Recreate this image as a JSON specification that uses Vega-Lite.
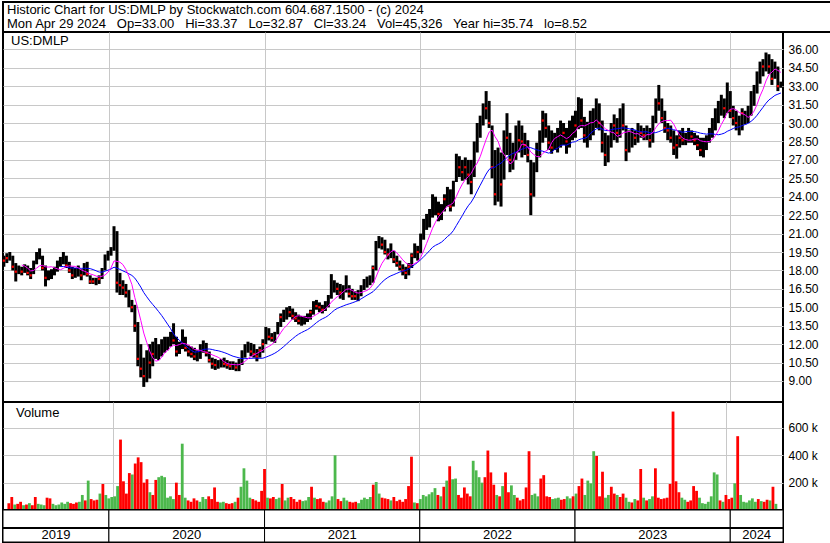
{
"$schema":"https://vega.github.io/schema/vega-lite/v6.json",
"background":"white",
"padding":{"left":1,"top":1,"right":0,"bottom":0},
"spacing":0,
"bounds":"flush",
"config":{
 "font":"Liberation Sans",
 "view":{"stroke":"black","strokeWidth":2},
 "axis":{"labelFont":"Liberation Sans","labelFontSize":12,"labelColor":"black","gridColor":"#c8c8c8","gridOpacity":1,"gridWidth":1,"domain":false,"ticks":false,"title":null,"labelOverlap":false,"labelFlush":false,"labelBound":false},
 "text":{"font":"Liberation Sans","color":"black"}
},
"resolve":{"scale":{"x":"independent","y":"independent"}},
"datasets":{
"hdr":[
 {"line":1,"t":"Historic Chart for US:DMLP by Stockwatch.com 604.687.1500 - (c) 2024"},
 {"line":2,"t":"Mon Apr 29 2024\u00a0\u00a0 Op=33.00\u00a0\u00a0 Hi=33.37\u00a0\u00a0 Lo=32.87\u00a0\u00a0 Cl=33.24\u00a0\u00a0 Vol=45,326\u00a0\u00a0 Year hi=35.74\u00a0\u00a0 lo=8.52"}
],
"yrs":[
 {"yr":"2019","s":"2019-04-27","e":"2020-01-01"},
 {"yr":"2020","s":"2020-01-01","e":"2021-01-01"},
 {"yr":"2021","s":"2021-01-01","e":"2022-01-01"},
 {"yr":"2022","s":"2022-01-01","e":"2023-01-01"},
 {"yr":"2023","s":"2023-01-01","e":"2024-01-01"},
 {"yr":"2024","s":"2024-01-01","e":"2024-05-04"}
],
"p":[
{"d":"2019-04-29","h":19.2,"l":18.3,"c":18.8,"v":50,"u":0},
{"d":"2019-05-06","h":19.4,"l":18.6,"c":19.0,"v":95,"u":0},
{"d":"2019-05-13","h":19.5,"l":18.8,"c":19.2,"v":40,"u":1},
{"d":"2019-05-20","h":19.2,"l":18.0,"c":18.3,"v":45,"u":0},
{"d":"2019-05-27","h":18.6,"l":17.1,"c":17.9,"v":60,"u":0},
{"d":"2019-06-03","h":18.4,"l":17.7,"c":18.0,"v":35,"u":1},
{"d":"2019-06-10","h":18.3,"l":17.6,"c":17.9,"v":40,"u":0},
{"d":"2019-06-17","h":18.5,"l":17.8,"c":18.2,"v":50,"u":1},
{"d":"2019-06-24","h":18.4,"l":17.6,"c":17.8,"v":35,"u":0},
{"d":"2019-07-01","h":18.2,"l":17.3,"c":17.6,"v":95,"u":0},
{"d":"2019-07-08","h":18.8,"l":17.7,"c":18.6,"v":45,"u":1},
{"d":"2019-07-15","h":19.5,"l":18.5,"c":19.2,"v":40,"u":1},
{"d":"2019-07-22","h":19.8,"l":18.9,"c":19.3,"v":35,"u":1},
{"d":"2019-07-29","h":19.2,"l":18.0,"c":18.2,"v":90,"u":0},
{"d":"2019-08-05","h":18.4,"l":16.7,"c":17.4,"v":85,"u":0},
{"d":"2019-08-12","h":18.0,"l":17.2,"c":17.6,"v":45,"u":1},
{"d":"2019-08-19","h":18.1,"l":17.3,"c":17.8,"v":35,"u":1},
{"d":"2019-08-26","h":18.3,"l":17.6,"c":18.0,"v":40,"u":1},
{"d":"2019-09-02","h":18.8,"l":17.9,"c":18.6,"v":55,"u":1},
{"d":"2019-09-09","h":19.1,"l":18.3,"c":18.8,"v":45,"u":1},
{"d":"2019-09-16","h":19.5,"l":18.5,"c":19.0,"v":60,"u":1},
{"d":"2019-09-23","h":19.2,"l":18.2,"c":18.4,"v":50,"u":0},
{"d":"2019-09-30","h":18.7,"l":17.8,"c":18.0,"v":45,"u":0},
{"d":"2019-10-07","h":18.3,"l":17.3,"c":17.6,"v":55,"u":0},
{"d":"2019-10-14","h":18.2,"l":17.4,"c":17.9,"v":60,"u":1},
{"d":"2019-10-21","h":18.4,"l":17.5,"c":17.8,"v":110,"u":1},
{"d":"2019-10-28","h":18.1,"l":17.2,"c":17.6,"v":70,"u":0},
{"d":"2019-11-04","h":18.6,"l":17.6,"c":18.3,"v":215,"u":1},
{"d":"2019-11-11","h":18.7,"l":17.5,"c":17.7,"v":80,"u":0},
{"d":"2019-11-18","h":17.6,"l":16.9,"c":17.1,"v":70,"u":0},
{"d":"2019-11-25","h":17.4,"l":16.9,"c":17.1,"v":75,"u":0},
{"d":"2019-12-02","h":17.4,"l":16.8,"c":17.2,"v":120,"u":1},
{"d":"2019-12-09","h":17.6,"l":16.9,"c":17.3,"v":190,"u":0},
{"d":"2019-12-16","h":18.2,"l":17.3,"c":18.0,"v":110,"u":1},
{"d":"2019-12-23","h":19.3,"l":18.0,"c":19.0,"v":85,"u":1},
{"d":"2019-12-30","h":19.6,"l":18.8,"c":19.3,"v":95,"u":1},
{"d":"2020-01-06","h":19.9,"l":19.2,"c":19.6,"v":100,"u":1},
{"d":"2020-01-13","h":21.6,"l":19.6,"c":21.0,"v":175,"u":1},
{"d":"2020-01-20","h":21.2,"l":16.2,"c":17.0,"v":515,"u":0},
{"d":"2020-01-27","h":17.8,"l":16.0,"c":16.8,"v":210,"u":0},
{"d":"2020-02-03","h":17.2,"l":16.0,"c":16.6,"v":120,"u":0},
{"d":"2020-02-10","h":16.9,"l":15.8,"c":16.2,"v":270,"u":0},
{"d":"2020-02-17","h":16.4,"l":15.0,"c":15.4,"v":260,"u":1},
{"d":"2020-02-24","h":15.6,"l":14.6,"c":15.0,"v":340,"u":0},
{"d":"2020-03-02","h":15.2,"l":13.0,"c":13.5,"v":385,"u":0},
{"d":"2020-03-09","h":13.8,"l":10.2,"c":10.8,"v":350,"u":0},
{"d":"2020-03-16","h":12.0,"l":9.3,"c":10.0,"v":200,"u":0},
{"d":"2020-03-23","h":10.9,"l":8.52,"c":9.4,"v":225,"u":0},
{"d":"2020-03-30","h":11.5,"l":8.9,"c":10.8,"v":130,"u":1},
{"d":"2020-04-06","h":12.0,"l":9.2,"c":10.5,"v":110,"u":0},
{"d":"2020-04-13","h":12.2,"l":10.2,"c":11.2,"v":220,"u":0},
{"d":"2020-04-20","h":12.5,"l":10.8,"c":11.6,"v":240,"u":1},
{"d":"2020-04-27","h":12.0,"l":10.7,"c":11.2,"v":250,"u":1},
{"d":"2020-05-04","h":12.4,"l":11.0,"c":11.8,"v":240,"u":1},
{"d":"2020-05-11","h":12.6,"l":11.3,"c":12.0,"v":90,"u":1},
{"d":"2020-05-18","h":12.6,"l":11.5,"c":12.1,"v":100,"u":1},
{"d":"2020-05-25","h":13.0,"l":11.8,"c":12.4,"v":80,"u":1},
{"d":"2020-06-01","h":13.7,"l":12.0,"c":12.3,"v":200,"u":0},
{"d":"2020-06-08","h":12.6,"l":11.0,"c":11.4,"v":110,"u":0},
{"d":"2020-06-15","h":12.2,"l":11.2,"c":11.8,"v":485,"u":1},
{"d":"2020-06-22","h":13.2,"l":11.6,"c":12.5,"v":90,"u":1},
{"d":"2020-06-29","h":12.6,"l":11.4,"c":11.7,"v":70,"u":0},
{"d":"2020-07-06","h":11.9,"l":11.0,"c":11.4,"v":60,"u":0},
{"d":"2020-07-13","h":11.8,"l":10.9,"c":11.2,"v":85,"u":0},
{"d":"2020-07-20","h":11.7,"l":10.7,"c":11.0,"v":70,"u":0},
{"d":"2020-07-27","h":11.5,"l":10.6,"c":11.1,"v":60,"u":1},
{"d":"2020-08-03","h":12.0,"l":10.8,"c":11.6,"v":95,"u":1},
{"d":"2020-08-10","h":12.3,"l":11.3,"c":11.8,"v":80,"u":1},
{"d":"2020-08-17","h":12.1,"l":11.0,"c":11.3,"v":100,"u":0},
{"d":"2020-08-24","h":11.4,"l":10.5,"c":10.7,"v":80,"u":0},
{"d":"2020-08-31","h":10.9,"l":10.0,"c":10.4,"v":165,"u":0},
{"d":"2020-09-07","h":10.8,"l":9.9,"c":10.3,"v":60,"u":0},
{"d":"2020-09-14","h":10.7,"l":10.0,"c":10.4,"v":55,"u":1},
{"d":"2020-09-21","h":10.8,"l":10.1,"c":10.5,"v":60,"u":1},
{"d":"2020-09-28","h":10.9,"l":10.1,"c":10.4,"v":50,"u":0},
{"d":"2020-10-05","h":10.7,"l":10.0,"c":10.3,"v":45,"u":0},
{"d":"2020-10-12","h":10.6,"l":9.9,"c":10.2,"v":50,"u":0},
{"d":"2020-10-19","h":10.6,"l":9.9,"c":10.3,"v":60,"u":1},
{"d":"2020-10-26","h":10.5,"l":9.8,"c":10.1,"v":90,"u":0},
{"d":"2020-11-02","h":10.8,"l":9.8,"c":10.5,"v":170,"u":1},
{"d":"2020-11-09","h":11.5,"l":10.3,"c":11.2,"v":305,"u":1},
{"d":"2020-11-16","h":12.0,"l":10.9,"c":11.6,"v":215,"u":1},
{"d":"2020-11-23","h":12.2,"l":11.3,"c":11.8,"v":90,"u":1},
{"d":"2020-11-30","h":12.1,"l":11.0,"c":11.4,"v":80,"u":0},
{"d":"2020-12-07","h":12.0,"l":10.9,"c":11.2,"v":70,"u":0},
{"d":"2020-12-14","h":11.6,"l":10.6,"c":11.0,"v":60,"u":0},
{"d":"2020-12-21","h":11.8,"l":10.9,"c":11.5,"v":140,"u":0},
{"d":"2020-12-28","h":12.4,"l":11.3,"c":12.0,"v":300,"u":0},
{"d":"2021-01-04","h":13.4,"l":12.0,"c":13.0,"v":90,"u":1},
{"d":"2021-01-11","h":13.3,"l":12.3,"c":12.6,"v":85,"u":0},
{"d":"2021-01-18","h":12.9,"l":12.2,"c":12.5,"v":95,"u":0},
{"d":"2021-01-25","h":13.0,"l":12.1,"c":12.7,"v":80,"u":1},
{"d":"2021-02-01","h":13.8,"l":12.8,"c":13.5,"v":90,"u":1},
{"d":"2021-02-08","h":14.5,"l":13.4,"c":14.2,"v":190,"u":0},
{"d":"2021-02-15","h":14.8,"l":13.8,"c":14.4,"v":70,"u":1},
{"d":"2021-02-22","h":15.0,"l":14.0,"c":14.7,"v":90,"u":1},
{"d":"2021-03-01","h":15.1,"l":14.2,"c":14.6,"v":95,"u":0},
{"d":"2021-03-08","h":14.9,"l":14.0,"c":14.3,"v":80,"u":0},
{"d":"2021-03-15","h":14.6,"l":13.8,"c":14.1,"v":60,"u":0},
{"d":"2021-03-22","h":14.4,"l":13.6,"c":13.9,"v":75,"u":0},
{"d":"2021-03-29","h":14.3,"l":13.5,"c":13.9,"v":65,"u":1},
{"d":"2021-04-05","h":14.3,"l":13.6,"c":14.0,"v":70,"u":1},
{"d":"2021-04-12","h":14.5,"l":13.8,"c":14.2,"v":95,"u":1},
{"d":"2021-04-19","h":14.8,"l":14.0,"c":14.6,"v":170,"u":0},
{"d":"2021-04-26","h":15.5,"l":14.4,"c":15.2,"v":90,"u":1},
{"d":"2021-05-03","h":15.6,"l":14.8,"c":15.1,"v":80,"u":0},
{"d":"2021-05-10","h":15.4,"l":14.6,"c":15.0,"v":85,"u":0},
{"d":"2021-05-17","h":15.2,"l":14.5,"c":14.8,"v":60,"u":0},
{"d":"2021-05-24","h":15.5,"l":14.7,"c":15.2,"v":55,"u":1},
{"d":"2021-05-31","h":16.0,"l":15.0,"c":15.8,"v":70,"u":1},
{"d":"2021-06-07","h":17.7,"l":15.7,"c":16.8,"v":100,"u":1},
{"d":"2021-06-14","h":17.2,"l":16.2,"c":16.9,"v":400,"u":1},
{"d":"2021-06-21","h":17.0,"l":16.0,"c":16.5,"v":80,"u":0},
{"d":"2021-06-28","h":16.9,"l":15.7,"c":16.2,"v":65,"u":0},
{"d":"2021-07-05","h":16.8,"l":15.6,"c":16.4,"v":90,"u":1},
{"d":"2021-07-12","h":17.6,"l":16.2,"c":16.6,"v":70,"u":1},
{"d":"2021-07-19","h":16.8,"l":15.8,"c":16.1,"v":60,"u":0},
{"d":"2021-07-26","h":16.5,"l":15.6,"c":15.9,"v":55,"u":0},
{"d":"2021-08-02","h":16.3,"l":15.6,"c":15.9,"v":60,"u":0},
{"d":"2021-08-09","h":16.4,"l":15.5,"c":16.0,"v":50,"u":1},
{"d":"2021-08-16","h":16.8,"l":15.9,"c":16.5,"v":75,"u":1},
{"d":"2021-08-23","h":17.3,"l":16.4,"c":17.0,"v":90,"u":1},
{"d":"2021-08-30","h":17.5,"l":16.6,"c":17.2,"v":80,"u":1},
{"d":"2021-09-06","h":17.6,"l":16.8,"c":17.3,"v":95,"u":1},
{"d":"2021-09-13","h":18.4,"l":17.0,"c":18.2,"v":185,"u":0},
{"d":"2021-09-20","h":20.4,"l":18.0,"c":20.0,"v":205,"u":1},
{"d":"2021-09-27","h":20.8,"l":19.8,"c":20.2,"v":120,"u":1},
{"d":"2021-10-04","h":20.7,"l":19.7,"c":20.1,"v":90,"u":0},
{"d":"2021-10-11","h":20.5,"l":19.3,"c":19.5,"v":85,"u":0},
{"d":"2021-10-18","h":19.8,"l":18.9,"c":19.3,"v":80,"u":0},
{"d":"2021-10-25","h":20.2,"l":19.0,"c":19.4,"v":70,"u":1},
{"d":"2021-11-01","h":19.6,"l":18.6,"c":18.9,"v":95,"u":0},
{"d":"2021-11-08","h":19.2,"l":18.3,"c":18.6,"v":65,"u":0},
{"d":"2021-11-15","h":18.8,"l":18.0,"c":18.3,"v":75,"u":0},
{"d":"2021-11-22","h":18.5,"l":17.6,"c":18.0,"v":60,"u":0},
{"d":"2021-11-29","h":18.3,"l":17.3,"c":17.8,"v":80,"u":0},
{"d":"2021-12-06","h":18.6,"l":17.6,"c":18.3,"v":175,"u":0},
{"d":"2021-12-13","h":19.4,"l":18.2,"c":19.2,"v":390,"u":0},
{"d":"2021-12-20","h":20.2,"l":19.0,"c":19.8,"v":55,"u":1},
{"d":"2021-12-27","h":20.0,"l":18.8,"c":19.5,"v":50,"u":0},
{"d":"2022-01-03","h":21.0,"l":19.4,"c":20.8,"v":80,"u":1},
{"d":"2022-01-10","h":22.2,"l":20.5,"c":21.8,"v":110,"u":1},
{"d":"2022-01-17","h":22.6,"l":21.3,"c":22.0,"v":100,"u":1},
{"d":"2022-01-24","h":23.0,"l":21.5,"c":22.6,"v":115,"u":1},
{"d":"2022-01-31","h":24.2,"l":22.3,"c":23.6,"v":130,"u":1},
{"d":"2022-02-07","h":24.0,"l":22.5,"c":23.2,"v":160,"u":1},
{"d":"2022-02-14","h":23.6,"l":22.0,"c":22.6,"v":110,"u":0},
{"d":"2022-02-21","h":23.4,"l":22.1,"c":22.8,"v":100,"u":1},
{"d":"2022-02-28","h":24.2,"l":22.8,"c":23.8,"v":170,"u":0},
{"d":"2022-03-07","h":24.8,"l":23.2,"c":24.2,"v":215,"u":1},
{"d":"2022-03-14","h":24.6,"l":22.8,"c":23.2,"v":320,"u":0},
{"d":"2022-03-21","h":25.3,"l":23.2,"c":24.8,"v":225,"u":1},
{"d":"2022-03-28","h":27.5,"l":25.2,"c":26.8,"v":230,"u":1},
{"d":"2022-04-04","h":27.3,"l":25.6,"c":26.4,"v":110,"u":0},
{"d":"2022-04-11","h":27.0,"l":25.3,"c":26.0,"v":90,"u":0},
{"d":"2022-04-18","h":27.2,"l":25.4,"c":26.4,"v":165,"u":0},
{"d":"2022-04-25","h":27.0,"l":25.0,"c":25.8,"v":120,"u":0},
{"d":"2022-05-02","h":27.0,"l":24.2,"c":25.2,"v":100,"u":0},
{"d":"2022-05-09","h":28.5,"l":25.6,"c":28.0,"v":360,"u":1},
{"d":"2022-05-16","h":30.0,"l":27.6,"c":29.4,"v":290,"u":1},
{"d":"2022-05-23","h":30.6,"l":28.8,"c":30.0,"v":240,"u":1},
{"d":"2022-05-30","h":31.6,"l":29.8,"c":31.0,"v":200,"u":1},
{"d":"2022-06-06","h":32.6,"l":30.3,"c":31.2,"v":240,"u":0},
{"d":"2022-06-13","h":31.8,"l":29.6,"c":30.0,"v":435,"u":0},
{"d":"2022-06-20","h":29.8,"l":25.5,"c":26.4,"v":275,"u":0},
{"d":"2022-06-27","h":27.8,"l":23.3,"c":24.2,"v":185,"u":0},
{"d":"2022-07-04","h":28.0,"l":23.6,"c":26.8,"v":110,"u":1},
{"d":"2022-07-11","h":27.6,"l":23.2,"c":25.0,"v":100,"u":0},
{"d":"2022-07-18","h":29.4,"l":25.4,"c":28.5,"v":175,"u":1},
{"d":"2022-07-25","h":30.8,"l":27.4,"c":28.8,"v":275,"u":0},
{"d":"2022-08-01","h":29.2,"l":26.0,"c":27.0,"v":130,"u":0},
{"d":"2022-08-08","h":28.4,"l":26.2,"c":27.6,"v":180,"u":1},
{"d":"2022-08-15","h":29.8,"l":27.0,"c":29.0,"v":110,"u":1},
{"d":"2022-08-22","h":30.2,"l":27.6,"c":28.6,"v":90,"u":0},
{"d":"2022-08-29","h":29.8,"l":27.2,"c":28.5,"v":70,"u":0},
{"d":"2022-09-05","h":29.2,"l":27.4,"c":28.2,"v":80,"u":0},
{"d":"2022-09-12","h":28.6,"l":26.8,"c":27.4,"v":165,"u":0},
{"d":"2022-09-19","h":27.0,"l":22.5,"c":24.2,"v":430,"u":0},
{"d":"2022-09-26","h":26.8,"l":24.0,"c":26.2,"v":110,"u":1},
{"d":"2022-10-03","h":28.4,"l":26.0,"c":27.8,"v":120,"u":1},
{"d":"2022-10-10","h":29.4,"l":27.2,"c":28.6,"v":100,"u":1},
{"d":"2022-10-17","h":31.0,"l":28.4,"c":30.2,"v":230,"u":0},
{"d":"2022-10-24","h":30.8,"l":28.8,"c":29.6,"v":255,"u":0},
{"d":"2022-10-31","h":29.8,"l":27.8,"c":28.4,"v":100,"u":0},
{"d":"2022-11-07","h":29.4,"l":27.5,"c":28.0,"v":95,"u":0},
{"d":"2022-11-14","h":29.2,"l":27.8,"c":28.6,"v":80,"u":1},
{"d":"2022-11-21","h":29.6,"l":27.6,"c":28.8,"v":85,"u":1},
{"d":"2022-11-28","h":30.2,"l":28.0,"c":29.6,"v":90,"u":1},
{"d":"2022-12-05","h":30.0,"l":28.2,"c":29.2,"v":75,"u":0},
{"d":"2022-12-12","h":29.6,"l":27.5,"c":28.5,"v":80,"u":0},
{"d":"2022-12-19","h":30.2,"l":28.0,"c":29.4,"v":100,"u":1},
{"d":"2022-12-26","h":30.6,"l":28.6,"c":30.0,"v":85,"u":1},
{"d":"2023-01-02","h":31.0,"l":28.8,"c":29.8,"v":100,"u":0},
{"d":"2023-01-09","h":32.1,"l":29.5,"c":31.5,"v":120,"u":1},
{"d":"2023-01-16","h":32.0,"l":29.6,"c":30.2,"v":175,"u":0},
{"d":"2023-01-23","h":30.5,"l":28.4,"c":29.0,"v":230,"u":0},
{"d":"2023-01-30","h":30.1,"l":28.0,"c":29.2,"v":110,"u":1},
{"d":"2023-02-06","h":31.0,"l":28.6,"c":30.4,"v":215,"u":1},
{"d":"2023-02-13","h":31.2,"l":29.0,"c":30.2,"v":195,"u":1},
{"d":"2023-02-20","h":32.0,"l":29.6,"c":31.2,"v":430,"u":1},
{"d":"2023-02-27","h":31.6,"l":29.4,"c":30.0,"v":395,"u":0},
{"d":"2023-03-06","h":30.2,"l":27.6,"c":28.4,"v":100,"u":0},
{"d":"2023-03-13","h":29.2,"l":26.5,"c":27.4,"v":280,"u":0},
{"d":"2023-03-20","h":29.0,"l":26.8,"c":28.2,"v":90,"u":1},
{"d":"2023-03-27","h":30.0,"l":28.0,"c":29.4,"v":110,"u":1},
{"d":"2023-04-03","h":30.7,"l":28.6,"c":29.8,"v":170,"u":0},
{"d":"2023-04-10","h":30.4,"l":28.4,"c":29.2,"v":120,"u":0},
{"d":"2023-04-17","h":31.2,"l":28.8,"c":30.6,"v":110,"u":1},
{"d":"2023-04-24","h":31.6,"l":29.4,"c":29.8,"v":95,"u":0},
{"d":"2023-05-01","h":29.8,"l":26.9,"c":27.8,"v":120,"u":0},
{"d":"2023-05-08","h":29.4,"l":27.6,"c":28.6,"v":90,"u":1},
{"d":"2023-05-15","h":29.6,"l":28.0,"c":29.0,"v":60,"u":1},
{"d":"2023-05-22","h":29.4,"l":28.2,"c":28.8,"v":55,"u":0},
{"d":"2023-05-29","h":30.0,"l":28.4,"c":29.4,"v":80,"u":1},
{"d":"2023-06-05","h":29.8,"l":28.8,"c":29.2,"v":70,"u":0},
{"d":"2023-06-12","h":29.6,"l":28.6,"c":29.0,"v":300,"u":0},
{"d":"2023-06-19","h":29.8,"l":28.6,"c":29.4,"v":90,"u":1},
{"d":"2023-06-26","h":29.6,"l":28.0,"c":28.6,"v":70,"u":0},
{"d":"2023-07-03","h":30.6,"l":28.4,"c":30.2,"v":80,"u":1},
{"d":"2023-07-10","h":32.0,"l":30.0,"c":31.6,"v":100,"u":1},
{"d":"2023-07-17","h":33.1,"l":31.0,"c":31.6,"v":305,"u":0},
{"d":"2023-07-24","h":32.0,"l":30.0,"c":30.4,"v":90,"u":0},
{"d":"2023-07-31","h":31.0,"l":29.2,"c":29.6,"v":80,"u":0},
{"d":"2023-08-07","h":30.0,"l":28.6,"c":29.4,"v":85,"u":0},
{"d":"2023-08-14","h":29.8,"l":28.4,"c":28.8,"v":90,"u":0},
{"d":"2023-08-21","h":29.4,"l":27.4,"c":28.0,"v":190,"u":0},
{"d":"2023-08-28","h":29.0,"l":27.1,"c":28.2,"v":720,"u":0},
{"d":"2023-09-04","h":29.4,"l":28.0,"c":28.8,"v":210,"u":0},
{"d":"2023-09-11","h":29.6,"l":28.2,"c":28.6,"v":130,"u":0},
{"d":"2023-09-18","h":29.2,"l":28.2,"c":28.8,"v":90,"u":1},
{"d":"2023-09-25","h":29.6,"l":28.4,"c":29.0,"v":75,"u":1},
{"d":"2023-10-02","h":29.4,"l":28.4,"c":28.9,"v":60,"u":0},
{"d":"2023-10-09","h":29.2,"l":28.2,"c":28.6,"v":70,"u":0},
{"d":"2023-10-16","h":29.0,"l":27.8,"c":28.2,"v":175,"u":0},
{"d":"2023-10-23","h":28.8,"l":27.3,"c":27.8,"v":140,"u":0},
{"d":"2023-10-30","h":28.8,"l":27.2,"c":28.2,"v":90,"u":1},
{"d":"2023-11-06","h":29.0,"l":27.8,"c":28.6,"v":50,"u":1},
{"d":"2023-11-13","h":29.6,"l":28.4,"c":29.2,"v":45,"u":1},
{"d":"2023-11-20","h":30.4,"l":28.8,"c":30.0,"v":60,"u":1},
{"d":"2023-11-27","h":31.2,"l":29.4,"c":30.8,"v":100,"u":1},
{"d":"2023-12-04","h":31.8,"l":30.0,"c":31.0,"v":275,"u":1},
{"d":"2023-12-11","h":32.3,"l":30.6,"c":31.4,"v":260,"u":1},
{"d":"2023-12-18","h":32.0,"l":30.4,"c":31.2,"v":70,"u":0},
{"d":"2023-12-25","h":33.3,"l":30.8,"c":32.4,"v":60,"u":1},
{"d":"2024-01-01","h":32.6,"l":30.4,"c":31.0,"v":110,"u":0},
{"d":"2024-01-08","h":31.4,"l":29.8,"c":30.4,"v":80,"u":0},
{"d":"2024-01-15","h":31.0,"l":29.4,"c":30.0,"v":90,"u":0},
{"d":"2024-01-22","h":30.6,"l":29.0,"c":29.6,"v":195,"u":1},
{"d":"2024-01-29","h":31.2,"l":29.4,"c":30.8,"v":540,"u":0},
{"d":"2024-02-05","h":31.0,"l":29.9,"c":30.4,"v":110,"u":1},
{"d":"2024-02-12","h":31.4,"l":30.0,"c":31.0,"v":60,"u":1},
{"d":"2024-02-19","h":32.6,"l":30.6,"c":32.2,"v":55,"u":1},
{"d":"2024-02-26","h":33.1,"l":31.4,"c":32.8,"v":70,"u":1},
{"d":"2024-03-04","h":34.2,"l":32.4,"c":33.8,"v":85,"u":1},
{"d":"2024-03-11","h":35.0,"l":33.2,"c":34.4,"v":60,"u":1},
{"d":"2024-03-18","h":35.2,"l":33.8,"c":34.6,"v":80,"u":0},
{"d":"2024-03-25","h":35.74,"l":34.2,"c":35.2,"v":65,"u":1},
{"d":"2024-04-01","h":35.6,"l":34.0,"c":34.6,"v":60,"u":0},
{"d":"2024-04-08","h":35.2,"l":33.1,"c":33.6,"v":75,"u":0},
{"d":"2024-04-15","h":35.0,"l":33.6,"c":34.6,"v":70,"u":1},
{"d":"2024-04-22","h":34.6,"l":32.6,"c":33.0,"v":170,"u":0},
{"d":"2024-04-29","h":33.37,"l":32.87,"c":33.24,"v":45,"u":1}
]
},
"vconcat":[
{
 "width":828,"height":30,
 "data":{"name":"hdr"},
 "mark":{"type":"text","align":"left","baseline":"middle","fontSize":13,"dx":4},
 "encoding":{
  "x":{"datum":0,"type":"quantitative","scale":{"domain":[0,1]},"axis":null},
  "y":{"field":"line","type":"quantitative","scale":{"domain":[0.393,2.536],"reverse":true,"nice":false,"zero":false},"axis":null},
  "text":{"field":"t"}
 }
},
{
 "width":780,"height":370,
 "data":{"name":"p"},
 "layer":[
  {
   "mark":{"type":"rule","color":"black","strokeWidth":3},
   "encoding":{
    "x":{"field":"d","type":"temporal","scale":{"domain":[{"year":2019,"month":4,"date":27},{"year":2024,"month":5,"date":4}]},
         "axis":{"values":[{"year":2020,"month":1,"date":1},{"year":2021,"month":1,"date":1},{"year":2022,"month":1,"date":1},{"year":2023,"month":1,"date":1},{"year":2024,"month":1,"date":1}],"labels":false,"grid":true,"title":null,"tickCount":20}},
    "y":{"field":"l","type":"quantitative","scale":{"domain":[7.29,37.41],"nice":false,"zero":false},
         "axis":{"orient":"right","values":[9,10.5,12,13.5,15,16.5,18,19.5,21,22.5,24,25.5,27,28.5,30,31.5,33,34.5,36],"tickCount":40,"format":".2f","grid":true,"labelPadding":5,"title":null,"labelOverlap":false,"labelFlush":false,"labelBound":false}},
    "y2":{"field":"h"}
   }
  },
  {
   "transform":[{"filter":"datum.u == 0"}],
   "mark":{"type":"square","size":5,"color":"#ff0000","opacity":1},
   "encoding":{"x":{"field":"d","type":"temporal"},"y":{"field":"c","type":"quantitative"}}
  },
  {
   "transform":[{"window":[{"op":"mean","field":"c","as":"ma"},{"op":"count","as":"n"}],"sort":[{"field":"d"}],"frame":[-19,0]},{"filter":"datum.n >= 20"}],
   "mark":{"type":"line","color":"#0000ff","strokeWidth":1},
   "encoding":{"x":{"field":"d","type":"temporal"},"y":{"field":"ma","type":"quantitative"}}
  },
  {
   "transform":[{"window":[{"op":"mean","field":"c","as":"ma"},{"op":"count","as":"n"}],"sort":[{"field":"d"}],"frame":[-6,0]},{"filter":"datum.n >= 7"}],
   "mark":{"type":"line","color":"#ff00ff","strokeWidth":1},
   "encoding":{"x":{"field":"d","type":"temporal"},"y":{"field":"ma","type":"quantitative"}}
  },
  {
   "data":{"values":[{"t":"US:DMLP"}]},
   "mark":{"type":"text","align":"left","baseline":"middle","fontSize":13,"dx":8},
   "encoding":{"x":{"datum":{"year":2019,"month":4,"date":27},"type":"temporal"},"y":{"datum":36.68,"type":"quantitative"},"text":{"field":"t"}}
  }
 ]
},
{
 "width":780,"height":108,
 "data":{"name":"p"},
 "layer":[
  {
   "mark":{"type":"bar","width":2.8},
   "encoding":{
    "x":{"field":"d","type":"temporal","scale":{"domain":[{"year":2019,"month":4,"date":27},{"year":2024,"month":5,"date":4}]},
         "axis":{"values":[{"year":2020,"month":1,"date":1},{"year":2021,"month":1,"date":1},{"year":2022,"month":1,"date":1},{"year":2023,"month":1,"date":1},{"year":2024,"month":1,"date":1}],"labels":false,"grid":true,"title":null,"tickCount":20}},
    "y":{"field":"v","type":"quantitative","scale":{"domain":[0,790],"nice":false},
         "axis":{"orient":"right","values":[200,400,600],"tickCount":10,"labelExpr":"datum.value + ' k'","grid":true,"labelPadding":5,"title":null,"labelOverlap":false}},
    "color":{"field":"u","type":"nominal","scale":{"domain":[0,1],"range":["#ff0000","#4cb84c"]},"legend":null}
   }
  },
  {
   "data":{"values":[{"t":"Volume"}]},
   "mark":{"type":"text","align":"left","baseline":"middle","fontSize":13,"dx":8},
   "encoding":{"x":{"datum":{"year":2019,"month":4,"date":27},"type":"temporal"},"y":{"datum":706,"type":"quantitative"},"text":{"field":"t"}}
  }
 ]
},
{
 "width":780,"height":32,
 "data":{"name":"yrs"},
 "layer":[
  {
   "mark":{"type":"rect","fill":"white","stroke":"black","strokeWidth":1},
   "encoding":{
    "x":{"field":"s","type":"temporal","scale":{"domain":[{"year":2019,"month":4,"date":27},{"year":2024,"month":5,"date":4}]},"axis":null},
    "x2":{"field":"e"},
    "y":{"datum":0,"type":"quantitative","scale":{"domain":[0,1]},"axis":null},
    "y2":{"datum":1}
   }
  },
  {
   "data":{"values":[{"r":1}]},
   "mark":{"type":"rule","color":"black","strokeWidth":2},
   "encoding":{"y":{"datum":0.44,"type":"quantitative"}}
  },
  {
   "transform":[{"calculate":"(time(datum.s) + time(datum.e)) / 2","as":"m"}],
   "mark":{"type":"text","align":"center","baseline":"middle","fontSize":13},
   "encoding":{"x":{"field":"m","type":"temporal"},"y":{"datum":0.22,"type":"quantitative"},"text":{"field":"yr"}}
  }
 ]
}
]
}
